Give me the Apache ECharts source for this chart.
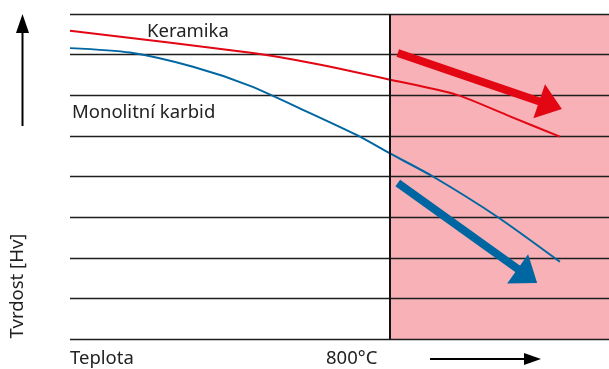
<!DOCTYPE html>
<html><head><meta charset="utf-8">
<script src="https://cdn.jsdelivr.net/npm/echarts@6/dist/echarts.min.js"></script>
<style>html,body{margin:0;padding:0;background:#fff}#c{width:609px;height:369px}</style>
</head><body><div id="c"></div>
<script>
// Data (x: temperature scale, y: hardness levels, arbitrary units)
const keramikaX = [0, 458, 601, 799, 969, 1102, 1227];
const keramikaY = [7.59, 7.04, 6.80, 6.39, 6.01, 5.48, 4.98];
const karbidX = [0, 150, 308, 451, 601, 726, 799, 909, 1070, 1227];
const karbidY = [7.16, 7.05, 6.70, 6.23, 5.56, 4.98, 4.58, 4.00, 3.01, 1.90];
const threshold = 800;
const seriesNames = ['Keramika', 'Monolitní karbid'];
const redArrow = [[821, 7.04], [1232, 5.66]];
const blueArrow = [[821, 3.84], [1170, 1.38]];
const xLabel = 'Teplota';
const thresholdLabel = '800°C';
const yLabel = 'Tvrdost [Hv]';

const RED = '#e30613', BLUE = '#0066a1', PINK = '#f7b1b7';
const FONT = '18.5px "Noto Sans"';
const chart = echarts.init(document.getElementById('c'), null, {renderer: 'canvas'});
const zip = (xs, ys) => xs.map((x, i) => [x, ys[i]]);

chart.setOption({
  animation: false,
  grid: {left: 70, right: 0, top: 14, bottom: 30},
  xAxis: {type: 'value', min: 0, max: 1350,
    axisLine: {show: false}, axisTick: {show: false}, axisLabel: {show: false}, splitLine: {show: false}},
  yAxis: {type: 'value', min: 0, max: 8, interval: 1, z: 3,
    axisLine: {show: false}, axisTick: {show: false}, axisLabel: {show: false},
    splitLine: {show: true, lineStyle: {color: '#1e1e1e', width: 1.4}}},
  series: [
    {name: 'bg', type: 'line', data: [], silent: true,
      markArea: {silent: true, z: 1, itemStyle: {color: PINK}, data: [[{xAxis: threshold, yAxis: 0}, {xAxis: 1350, yAxis: 8}]]},
      markLine: {silent: true, z: 6, symbol: 'none', label: {show: false},
        lineStyle: {color: '#111', width: 2, type: 'solid'}, data: [{xAxis: threshold}]}},
    {name: seriesNames[0], type: 'line', smooth: 0.25, showSymbol: false, data: zip(keramikaX, keramikaY),
      lineStyle: {color: RED, width: 2}, z: 5},
    {name: seriesNames[1], type: 'line', smooth: 0.25, showSymbol: false, data: zip(karbidX, karbidY),
      lineStyle: {color: BLUE, width: 2}, z: 5}
  ]
});

function arrowGraphics(pts, color, shaftW, headLen, headW) {
  const a = chart.convertToPixel({gridIndex: 0}, pts[0]);
  const b = chart.convertToPixel({gridIndex: 0}, pts[1]);
  const dx = b[0] - a[0], dy = b[1] - a[1];
  const L = Math.hypot(dx, dy), ux = dx / L, uy = dy / L, nx = -uy, ny = ux;
  const base = [b[0] - ux * headLen, b[1] - uy * headLen];
  return [
    {type: 'line', shape: {x1: a[0], y1: a[1], x2: base[0] + ux * 2, y2: base[1] + uy * 2},
      style: {stroke: color, lineWidth: shaftW}, z: 10},
    {type: 'polygon', shape: {points: [b, [base[0] + nx * headW / 2, base[1] + ny * headW / 2],
      [base[0] - nx * headW / 2, base[1] - ny * headW / 2]]}, style: {fill: color}, z: 10}
  ];
}

const graphics = [
  ...arrowGraphics(redArrow, RED, 8, 24, 36),
  ...arrowGraphics(blueArrow, BLUE, 8, 24, 36),
  {type: 'text', x: 147, y: 32, style: {text: seriesNames[0], font: FONT, fill: '#222', verticalAlign: 'middle'}, z: 12},
  {type: 'text', x: 72, y: 113, style: {text: seriesNames[1], font: FONT, fill: '#222', verticalAlign: 'middle'}, z: 12},
  {type: 'text', x: 70, y: 359, style: {text: xLabel, font: FONT, fill: '#222', verticalAlign: 'middle'}},
  {type: 'text', x: 326, y: 359, style: {text: thresholdLabel, font: FONT, fill: '#222', verticalAlign: 'middle'}},
  {type: 'text', x: 18, y: 286, rotation: Math.PI / 2, style: {text: yLabel, font: FONT, fill: '#222', align: 'center', verticalAlign: 'middle'}},
  // y-axis up arrow
  {type: 'line', shape: {x1: 22.5, y1: 126, x2: 22.5, y2: 30}, style: {stroke: '#000', lineWidth: 2}},
  {type: 'polygon', shape: {points: [[22.5, 14], [16, 33], [29, 33]]}, style: {fill: '#000'}},
  // x-axis right arrow
  {type: 'line', shape: {x1: 430, y1: 359, x2: 528, y2: 359}, style: {stroke: '#000', lineWidth: 2}},
  {type: 'polygon', shape: {points: [[541, 359], [524, 353], [524, 365]]}, style: {fill: '#000'}}
];
chart.setOption({graphic: graphics});
</script></body></html>
